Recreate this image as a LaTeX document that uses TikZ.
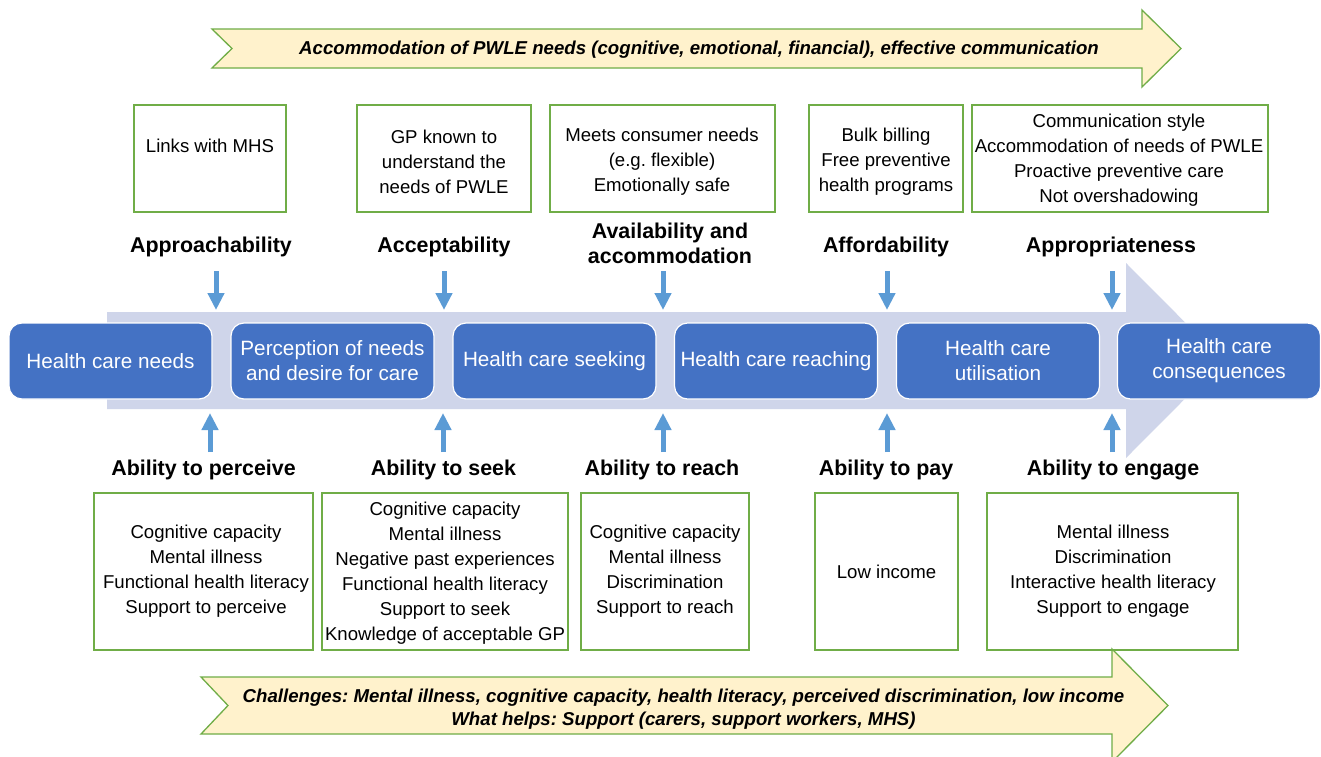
\documentclass[tikz,border=0pt]{standalone}
\usepackage{fontspec}
\setmainfont{Liberation Sans}
\usetikzlibrary{arrows.meta}
\frenchspacing
\definecolor{bgarrow}{HTML}{CFD5EA}
\definecolor{boxblue}{HTML}{4472C4}
\definecolor{arrblue}{HTML}{5B9BD5}
\definecolor{grn}{HTML}{70AD47}
\definecolor{yel}{HTML}{FFF2CC}
\tikzset{
  stage/.style={draw=white, line width=1.2pt, fill=boxblue, rounded corners=13pt,
    minimum width=203pt, minimum height=76pt, inner sep=0pt, text=white,
    align=center, font=\fontsize{20.7}{25}\selectfont},
  gbox/.style={draw=grn, line width=1.3pt, fill=white, inner sep=0pt},
  gtext/.style={anchor=base, align=center, inner sep=0pt, font=\fontsize{18.6}{25}\selectfont},
  dimlabel/.style={anchor=base, align=center, inner sep=0pt, font=\bfseries\fontsize{21.4}{25}\selectfont},
  flow/.style={arrblue, line width=5pt, -{Triangle[width=16pt,length=17pt]}},
  band/.style={fill=yel, draw=grn, line width=1.3pt, line join=miter},
  bandtext/.style={anchor=base, align=center, inner sep=0pt, font=\bfseries\itshape\fontsize{18.65}{23}\selectfont}
}
\begin{document}
\begin{tikzpicture}[x=1pt,y=-1pt]
\useasboundingbox (0,0) rectangle (1321,756);
\fill[white] (0,0) rectangle (1321,756);

% top band
\draw[band] (212,29) -- (1142,29) -- (1142,10) -- (1181,48.5) -- (1142,87) -- (1142,68) -- (212,68) -- (232,48.5) -- cycle;
\node[bandtext] (toptext) at (699,54) {Accommodation of PWLE needs (cognitive, emotional, financial), effective communication};

% background arrow
\fill[bgarrow] (107,312) -- (1126,312) -- (1126,263) -- (1223,360.5) -- (1126,458) -- (1126,409) -- (107,409) -- cycle;

% stages
\node[stage] (s1) at (110.5,361) {Health care needs};
\node[stage] (s2) at (332.5,361) {Perception of needs\\and desire for care};
\node[stage] (s3) at (554.5,361) {Health care seeking};
\node[stage] (s4) at (776,361) {Health care reaching};
\node[stage] (s5) at (998,361) {Health care\\utilisation};
\node[stage] (s6) at (1219,361) {Health care\\consequences};

% top boxes
\node[gbox, minimum width=152pt, minimum height=107pt] (tb1) at (210,158.5) {};
\node[gbox, minimum width=174pt, minimum height=107pt] (tb2) at (444,158.5) {};
\node[gbox, minimum width=225pt, minimum height=107pt] (tb3) at (662.5,158.5) {};
\node[gbox, minimum width=154pt, minimum height=107pt] (tb4) at (886,158.5) {};
\node[gbox, minimum width=296pt, minimum height=107pt] (tb5) at (1120,158.5) {};
\node[gtext] (tt1) at (210,152) {Links with MHS};
\node[gtext] (tt2) at (444,193) {GP known to\\understand the\\needs of PWLE};
\node[gtext] (tt3) at (662,191) {Meets consumer needs\\(e.g. flexible)\\Emotionally safe};
\node[gtext] (tt4) at (886,191) {Bulk billing\\Free preventive\\health programs};
\node[gtext] (tt5) at (1119,202) {Communication style\\Accommodation of needs of PWLE\\Proactive preventive care\\Not overshadowing};

% top labels
\node[dimlabel] (d1) at (211,252) {Approachability};
\node[dimlabel] (d2) at (444,252) {Acceptability};
\node[dimlabel] (d3) at (670,263) {Availability and\\accommodation};
\node[dimlabel] (d4) at (886,252) {Affordability};
\node[dimlabel] (d5) at (1111,252) {Appropriateness};

% bottom labels
\node[dimlabel] (a1) at (203.5,475) {Ability to perceive};
\node[dimlabel] (a2) at (443.5,475) {Ability to seek};
\node[dimlabel] (a3) at (662,475) {Ability to reach};
\node[dimlabel] (a4) at (886,475) {Ability to pay};
\node[dimlabel] (a5) at (1113,475) {Ability to engage};

% arrow endpoints
\coordinate (dt1) at (216,271); \coordinate (dh1) at (216,310);
\coordinate (dt2) at (444,271); \coordinate (dh2) at (444,310);
\coordinate (dt3) at (663,271); \coordinate (dh3) at (663,310);
\coordinate (dt4) at (887,271); \coordinate (dh4) at (887,310);
\coordinate (dt5) at (1112,271); \coordinate (dh5) at (1112,310);
\coordinate (ut1) at (210,452); \coordinate (uh1) at (210,413);
\coordinate (ut2) at (443,452); \coordinate (uh2) at (443,413);
\coordinate (ut3) at (663,452); \coordinate (uh3) at (663,413);
\coordinate (ut4) at (887,452); \coordinate (uh4) at (887,413);
\coordinate (ut5) at (1112,452); \coordinate (uh5) at (1112,413);
\foreach \i in {1,...,5} {
  \draw[flow] (dt\i) -- (dh\i);
  \draw[flow] (ut\i) -- (uh\i);
}

% bottom boxes
\node[gbox, minimum width=219pt, minimum height=157pt] (bb1) at (203.5,571.5) {};
\node[gbox, minimum width=246pt, minimum height=157pt] (bb2) at (445,571.5) {};
\node[gbox, minimum width=168pt, minimum height=157pt] (bb3) at (665,571.5) {};
\node[gbox, minimum width=143pt, minimum height=157pt] (bb4) at (886.5,571.5) {};
\node[gbox, minimum width=251pt, minimum height=157pt] (bb5) at (1112.5,571.5) {};
\node[gtext] (bt1) at (206,613) {Cognitive capacity\\Mental illness\\Functional health literacy\\Support to perceive};
\node[gtext] (bt2) at (445,640) {Cognitive capacity\\Mental illness\\Negative past experiences\\Functional health literacy\\Support to seek\\Knowledge of acceptable GP};
\node[gtext] (bt3) at (665,613) {Cognitive capacity\\Mental illness\\Discrimination\\Support to reach};
\node[gtext] (bt4) at (886.5,578) {Low income};
\node[gtext] (bt5) at (1113,613) {Mental illness\\Discrimination\\Interactive health literacy\\Support to engage};

% bottom band
\draw[band] (201,677) -- (1112,677) -- (1112,649) -- (1168,705.5) -- (1112,762) -- (1112,734) -- (201,734) -- (228,705.5) -- cycle;
\node[bandtext] (bottext) at (683.5,725) {Challenges: Mental illness, cognitive capacity, health literacy, perceived discrimination, low income\\What helps: Support (carers, support workers, MHS)};
\end{tikzpicture}
\end{document}
